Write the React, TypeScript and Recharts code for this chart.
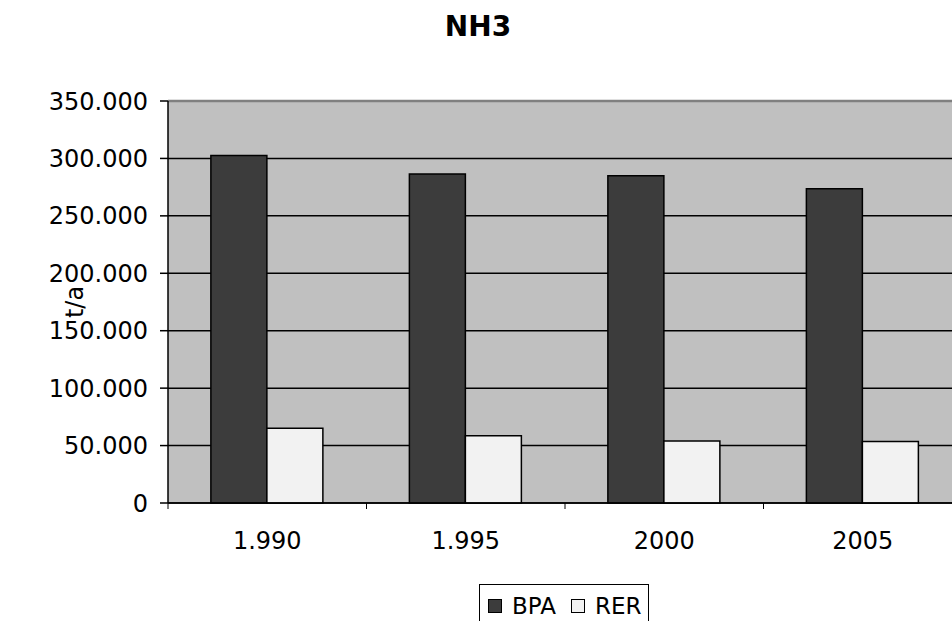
import { Bar, BarChart, CartesianGrid, Label, ReferenceLine, XAxis, YAxis } from 'recharts';

const years = ['1.990', '1.995', '2000', '2005'];
const bpaValues = [302500, 286500, 285000, 273500];
const rerValues = [65000, 58500, 54000, 53500];
const yTicks = [0, 50000, 100000, 150000, 200000, 250000, 300000, 350000];
const bandTicks = [0, 1, 2, 3, 4];

const series = [
  { key: 'BPA', fill: '#3c3c3c' },
  { key: 'RER', fill: '#f2f2f2' },
];

const data = years.map((year, i) => ({ year, BPA: bpaValues[i], RER: rerValues[i], idx: i + 0.5 }));

const font = '"DejaVu Sans", Verdana, sans-serif';
const fmt = (v: number) => String(v).replace(/\B(?=(\d{3})+(?!\d))/g, '.');

export default function App() {
  return (
    <div
      style={{
        position: 'absolute',
        left: 0,
        top: 0,
        width: 952,
        height: 621,
        overflow: 'hidden',
        background: '#fff',
        fontFamily: font,
      }}
    >
      <div
        style={{
          position: 'absolute',
          left: 378,
          top: 13,
          width: 200,
          textAlign: 'center',
          fontSize: 28,
          lineHeight: '28px',
          fontWeight: 'bold',
        }}
      >
        NH3
      </div>
      <BarChart
        width={1000}
        height={621}
        data={data}
        margin={{ top: 101, right: 38, left: 0, bottom: 57 }}
        barCategoryGap="21.6%"
        barGap={0}
      >
        <CartesianGrid xAxisId="cat" vertical={false} fill="#c0c0c0" stroke="#000" strokeWidth={1.5} />
        <XAxis
          xAxisId="band"
          type="number"
          dataKey="idx"
          domain={[0, 4]}
          ticks={bandTicks}
          tick={() => <g />}
          height={1}
          axisLine={{ stroke: '#000', strokeWidth: 1.5 }}
          tickLine={{ stroke: '#000', strokeWidth: 1 }}
          tickSize={6}
        />
        <XAxis
          xAxisId="cat"
          dataKey="year"
          height={60}
          tickLine={false}
          tickSize={0}
          tickMargin={28}
          axisLine={false}
          tick={{ fill: '#000', fontSize: 24, fontFamily: font }}
        />
        <YAxis
          width={168}
          domain={[0, 350000]}
          ticks={yTicks}
          tickFormatter={fmt}
          axisLine={{ stroke: '#000', strokeWidth: 1.5 }}
          tickLine={{ stroke: '#000', strokeWidth: 1.5 }}
          tickSize={8}
          tickMargin={12}
          tick={{ fill: '#000', fontSize: 24, fontFamily: font }}
        >
          <Label
            content={({ viewBox }: any) => {
              const cx = viewBox.x + 75;
              const cy = viewBox.y + viewBox.height / 2;
              return (
                <text
                  x={cx}
                  y={cy}
                  transform={`rotate(-90, ${cx}, ${cy})`}
                  textAnchor="middle"
                  dominantBaseline="central"
                  fontSize={24}
                  fontFamily={font}
                  fill="#000"
                >
                  t/a
                </text>
              );
            }}
          />
        </YAxis>
        {series.map((s) => (
          <Bar
            key={s.key}
            xAxisId="cat"
            dataKey={s.key}
            fill={s.fill}
            stroke="#000"
            strokeWidth={1.5}
            isAnimationActive={false}
          />
        ))}
        <ReferenceLine xAxisId="cat" y={350000} stroke="#808080" strokeWidth={2.5} />
      </BarChart>
      <div
        style={{
          position: 'absolute',
          left: 479,
          top: 584,
          width: 170,
          height: 60,
          border: '1px solid #000',
          boxSizing: 'border-box',
        }}
      >
        <div
          style={{
            position: 'absolute',
            left: 8,
            top: 14,
            height: 14,
            display: 'flex',
            alignItems: 'center',
            fontSize: 23,
            lineHeight: '14px',
            whiteSpace: 'nowrap',
          }}
        >
          {series.map((s) => (
            <div key={s.key} style={{ display: 'flex', alignItems: 'center', marginRight: 15 }}>
              <span
                style={{
                  display: 'inline-block',
                  width: 14,
                  height: 14,
                  background: s.fill,
                  border: '1px solid #000',
                  boxSizing: 'border-box',
                  marginRight: 10,
                }}
              />
              <span>{s.key}</span>
            </div>
          ))}
        </div>
      </div>
    </div>
  );
}
